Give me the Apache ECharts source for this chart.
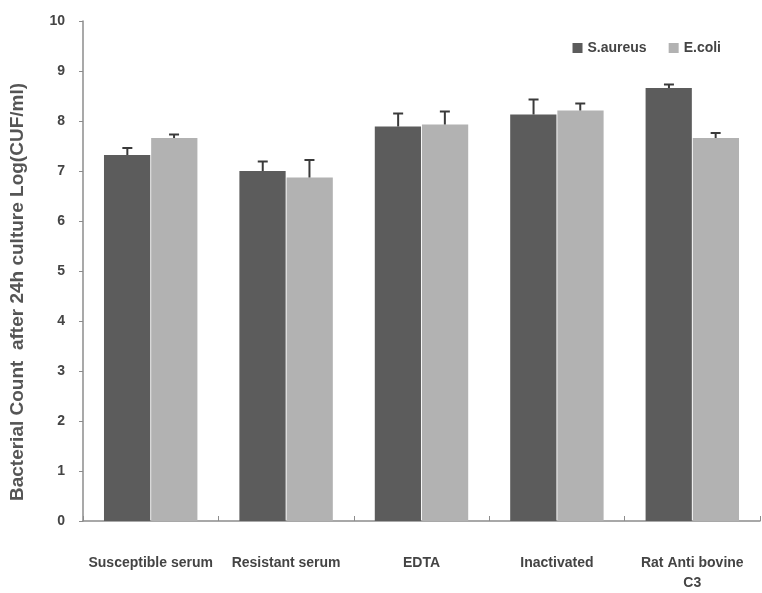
<!DOCTYPE html>
<html>
<head>
<meta charset="utf-8">
<script src="https://cdn.jsdelivr.net/npm/echarts@6/dist/echarts.min.js"></script>
<style>html,body{margin:0;padding:0;background:#fff}#c{width:762px;height:593px}</style>
</head>
<body>
<div id="c"></div>
<script>
var categories = ['Susceptible serum', 'Resistant serum', 'EDTA', 'Inactivated', 'Rat Anti bovine\nC3'];
var seriesNames = ['S.aureus', 'E.coli'];
var saureus = [7.32, 7.0, 7.89, 8.13, 8.66];
var saureusErr = [0.14, 0.19, 0.26, 0.30, 0.07];
var ecoli = [7.66, 6.87, 7.93, 8.21, 7.66];
var ecoliErr = [0.07, 0.35, 0.26, 0.14, 0.10];
var yTicks = [0, 1, 2, 3, 4, 5, 6, 7, 8, 9, 10];
var yTitle = 'Bacterial Count  after 24h culture Log(CUF/ml)';

var FONT = "'Liberation Sans', Arial, sans-serif";
var darkColor = '#5c5c5c';
var lightColor = '#b2b2b2';
var catGap = 0.31;

function errSeries(values, errs, side) {
  return {
    type: 'custom',
    z: 5,
    silent: true,
    renderItem: function (params, api) {
      var idx = api.value(0);
      var v = api.value(1);
      var e = api.value(2);
      var band = api.size([1, 0])[0];
      var bw = band * (1 - catGap) / 2;
      var base = api.coord([idx, v]);
      var top = api.coord([idx, v + e]);
      var x = base[0] + side * bw / 2;
      var cap = 5;
      var style = { stroke: '#3a3a3a', lineWidth: 2 };
      return {
        type: 'group',
        children: [
          { type: 'line', shape: { x1: x, y1: base[1], x2: x, y2: top[1] }, style: style },
          { type: 'line', shape: { x1: x - cap, y1: top[1], x2: x + cap, y2: top[1] }, style: style }
        ]
      };
    },
    data: values.map(function (v, i) { return [i, v, errs[i]]; }),
    encode: { x: 0, y: 1 },
    tooltip: { show: false }
  };
}

var chart = echarts.init(document.getElementById('c'));
chart.setOption({
  animation: false,
  backgroundColor: '#fff',
  textStyle: { fontFamily: FONT },
  graphic: [{
    type: 'text',
    x: 18,
    y: 292,
    rotation: Math.PI / 2,
    style: {
      text: yTitle,
      fontFamily: FONT, fontSize: 19, fontWeight: 'bold', fill: '#555',
      align: 'center', verticalAlign: 'middle'
    }
  }],
  legend: {
    data: seriesNames,
    right: 36,
    top: 36,
    itemWidth: 10,
    itemHeight: 10,
    itemGap: 22,
    icon: 'rect',
    textStyle: { fontFamily: FONT, fontSize: 14, fontWeight: 'bold', color: '#444', padding: [0, 0, 0, 0] }
  },
  grid: { left: 83, right: 2, top: 21, bottom: 72, containLabel: false },
  xAxis: {
    type: 'category',
    data: categories,
    axisLine: { lineStyle: { color: '#8c8c8c', width: 1.5 } },
    axisTick: { show: true, inside: true, length: 5, lineStyle: { color: '#8c8c8c' } },
    axisLabel: { fontFamily: FONT, fontSize: 14, fontWeight: 'bold', color: '#444', margin: 32, lineHeight: 20, interval: 0 }
  },
  yAxis: {
    type: 'value',
    min: 0,
    max: 10,
    interval: 1,
    axisLine: { show: true, lineStyle: { color: '#8c8c8c', width: 1.5 } },
    axisTick: { show: true, length: 4, lineStyle: { color: '#8c8c8c' } },
    axisLabel: {
      fontFamily: FONT, fontSize: 14, fontWeight: 'bold', color: '#444', margin: 18,
      formatter: function (v) { return yTicks.indexOf(v) >= 0 ? String(v) : ''; }
    },
    splitLine: { show: false }
  },
  series: [
    {
      name: seriesNames[0], type: 'bar', data: saureus,
      barGap: '2%', barCategoryGap: (catGap * 100) + '%',
      itemStyle: { color: darkColor }
    },
    {
      name: seriesNames[1], type: 'bar', data: ecoli,
      barGap: '2%', barCategoryGap: (catGap * 100) + '%',
      itemStyle: { color: lightColor }
    },
    errSeries(saureus, saureusErr, -1),
    errSeries(ecoli, ecoliErr, 1)
  ]
});
</script>
</body>
</html>
